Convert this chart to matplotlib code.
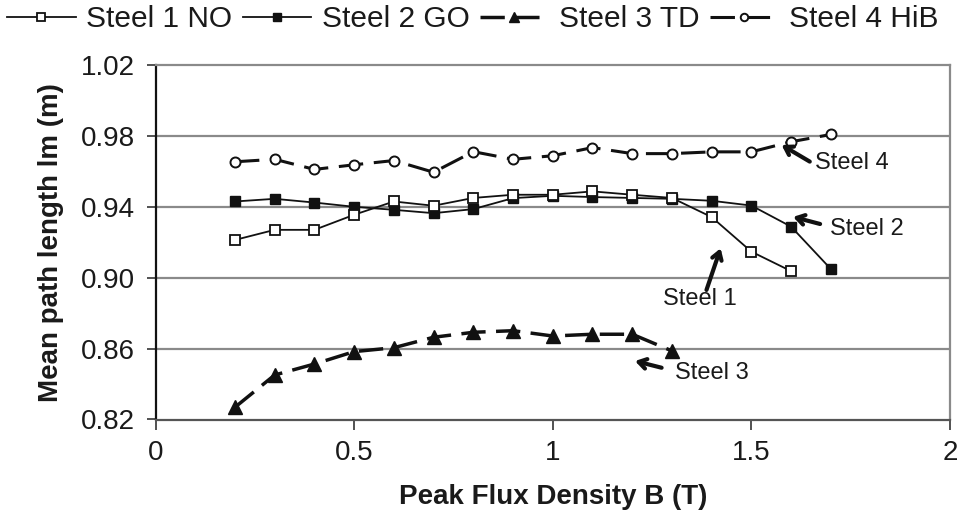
import matplotlib
matplotlib.use("Agg")
import matplotlib.pyplot as plt

plt.rcParams['font.family'] = ['Liberation Sans', 'DejaVu Sans']

# ---- data ----
b_full = [0.2, 0.3, 0.4, 0.5, 0.6, 0.7, 0.8, 0.9, 1.0, 1.1, 1.2, 1.3, 1.4, 1.5, 1.6, 1.7]
b_steel1 = [0.2, 0.3, 0.4, 0.5, 0.6, 0.7, 0.8, 0.9, 1.0, 1.1, 1.2, 1.3, 1.4, 1.5, 1.6]
b_steel3 = [0.2, 0.3, 0.4, 0.5, 0.6, 0.7, 0.8, 0.9, 1.0, 1.1, 1.2, 1.3]

steel1 = [0.9213, 0.927, 0.927, 0.9355, 0.943, 0.9406, 0.945, 0.9468, 0.9468,
          0.9487, 0.9468, 0.945, 0.9342, 0.9147, 0.9037]
steel2 = [0.943, 0.9445, 0.9424, 0.940, 0.9383, 0.9364, 0.9387, 0.9449, 0.9462,
          0.9455, 0.945, 0.9445, 0.9434, 0.9407, 0.9288, 0.9049]
steel3 = [0.8269, 0.8451, 0.8513, 0.8583, 0.8605, 0.8664, 0.8692, 0.8701, 0.8671,
          0.8681, 0.8681, 0.8587]
steel4 = [0.9654, 0.9668, 0.9611, 0.9637, 0.9661, 0.9595, 0.9711, 0.9668, 0.9688,
          0.9734, 0.970, 0.970, 0.971, 0.971, 0.9767, 0.9808]

series_labels = ["Steel 1 NO", "Steel 2 GO", "Steel 3 TD", "Steel 4 HiB"]
x_ticks = [0, 0.5, 1, 1.5, 2]
x_tick_labels = ["0", "0.5", "1", "1.5", "2"]
y_ticks = [0.82, 0.86, 0.90, 0.94, 0.98, 1.02]
y_tick_labels = ["0.82", "0.86", "0.90", "0.94", "0.98", "1.02"]

# annotations: (text, text_pos, arrow_tail, arrow_head, ha)
annots = [
    ("Steel 4", (1.660, 0.9649), (1.647, 0.9655), (1.576, 0.9749), 'left'),
    ("Steel 2", (1.698, 0.9275), (1.673, 0.9303), (1.605, 0.9343), 'left'),
    ("Steel 1", (1.370, 0.8880), (1.387, 0.8931), (1.4226, 0.9166), 'center'),
    ("Steel 3", (1.308, 0.8464), (1.274, 0.8492), (1.207, 0.8530), 'left'),
]

fig = plt.figure(figsize=(9.61, 5.15), dpi=100)
ax = fig.add_axes([155.5/961, 1-419.5/515, (950-155.5)/961, (419.5-65)/515])

txtc = '#1a1a1a'
gridc = '#8a8a8a'

l1, = ax.plot(b_steel1, steel1, '-', color='#111', lw=1.3, marker='s', ms=7.2,
              mfc='white', mec='#111', mew=1.3, label=series_labels[0], zorder=4)
l2, = ax.plot(b_full, steel2, '-', color='#111', lw=1.3, marker='s', ms=7.5,
              mfc='#111', mec='#111', label=series_labels[1], zorder=3)
l3, = ax.plot(b_steel3, steel3, color='#111', lw=2.5, dashes=(7, 3),
              marker='^', ms=9.5, mfc='#111', mec='#111', label=series_labels[2], zorder=3)
l4, = ax.plot(b_full, steel4, color='#111', lw=2.2, dashes=(8, 3.5),
              marker='o', ms=7.2, mfc='white', mec='#111', mew=1.4,
              label=series_labels[3], zorder=3)

ax.set_xlim(0, 2)
ax.set_ylim(0.82, 1.02)
ax.set_xticks(x_ticks)
ax.set_xticklabels(x_tick_labels)
ax.set_yticks(y_ticks)
ax.set_yticklabels(y_tick_labels)

for y in y_ticks[1:-1]:
    ax.axhline(y, color=gridc, lw=1.6, zorder=1)

ax.spines['left'].set_color('#111')
ax.spines['left'].set_linewidth(1.6)
ax.spines['bottom'].set_color('#555')
ax.spines['bottom'].set_linewidth(1.6)
ax.spines['top'].set_color(gridc)
ax.spines['top'].set_linewidth(1.6)
ax.spines['right'].set_color(gridc)
ax.spines['right'].set_linewidth(1.6)

ax.tick_params(axis='y', direction='out', length=6.5, width=1.2, pad=8.5,
               labelsize=20, labelcolor=txtc, color='#333')
ax.tick_params(axis='x', direction='out', length=7, width=1.2, pad=8,
               labelsize=20, labelcolor=txtc, color='#333')

ax.set_xlabel("Peak Flux Density B (T)", fontsize=20, fontweight='bold',
              color=txtc, labelpad=13)
ax.set_ylabel("Mean path length lm (m)", fontsize=20, fontweight='bold',
              color=txtc, labelpad=12)

for text, tpos, tail, head, ha in annots:
    ax.annotate("", xy=head, xytext=tail,
                arrowprops=dict(arrowstyle='->,head_length=0.55,head_width=0.35',
                                lw=3.0, color='#111', shrinkA=0, shrinkB=0))
    ax.text(tpos[0], tpos[1], text, fontsize=17, color=txtc, ha=ha, va='center')

fig.legend(handles=[l1, l2, l3, l4], loc='center', bbox_to_anchor=(0.492, 1-19/515),
           ncol=4, frameon=False, fontsize=21.5, handlelength=2.3, markerscale=0.75,
           handletextpad=0.35, columnspacing=0.35, borderaxespad=0,
           labelcolor=txtc)

fig.savefig("out.png", dpi=100)
